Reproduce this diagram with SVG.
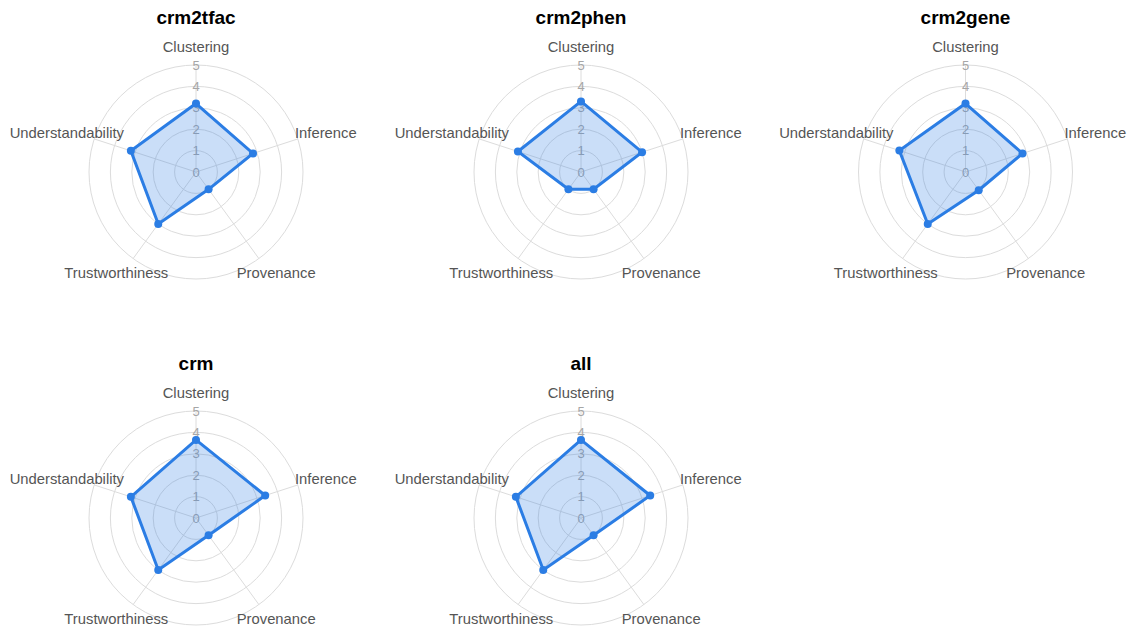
<svg xmlns="http://www.w3.org/2000/svg" xmlns:xlink="http://www.w3.org/1999/xlink" width="1132" height="632" viewBox="0 0 1132 632">
<style>
.grid circle{fill:none;stroke:#dcdcdc;stroke-width:1}
.grid line{stroke:#dcdcdc;stroke-width:1}
.tick{font-family:"Liberation Sans",Arial,sans-serif;font-size:13px;fill:#a6a6a6;text-anchor:middle}
.lbl{font-family:"Liberation Sans",Arial,sans-serif;font-size:14.8px;fill:#555}
.title{font-family:"Liberation Sans",Arial,sans-serif;font-size:19px;font-weight:bold;fill:#000;text-anchor:middle}
.area{fill:rgba(43,124,229,0.25);stroke:#2b7de4;stroke-width:3;stroke-linejoin:miter}
.pt{fill:#2b7de4}
</style>
<defs>
<g id="scale">
<g class="grid">
<circle r="21.4"/><circle r="42.8"/><circle r="64.2"/><circle r="85.6"/><circle r="107"/>
<line x1="0" y1="0" x2="0" y2="-107"/>
<line x1="0" y1="0" x2="101.77" y2="-33.06"/>
<line x1="0" y1="0" x2="62.89" y2="86.57"/>
<line x1="0" y1="0" x2="-62.89" y2="86.57"/>
<line x1="0" y1="0" x2="-101.77" y2="-33.06"/>
</g>
<g class="tick">
<text x="0" y="4.6">0</text>
<text x="0" y="-16.8">1</text>
<text x="0" y="-38.2">2</text>
<text x="0" y="-59.6">3</text>
<text x="0" y="-81">4</text>
<text x="0" y="-102.4">5</text>
</g>
<g class="lbl">
<text x="0" y="-120.5" text-anchor="middle">Clustering</text>
<text x="99" y="-33.7">Inference</text>
<text x="80.2" y="106.3" text-anchor="middle">Provenance</text>
<text x="-79.7" y="106.3" text-anchor="middle">Trustworthiness</text>
<text x="-72" y="-33.7" text-anchor="end">Understandability</text>
</g>
</g>
</defs>

<g id="chart-crm2tfac" transform="translate(196,172)">
<text class="title" x="0" y="-148.5">crm2tfac</text>
<use xlink:href="#scale" href="#scale"/>
<polygon class="area" points="0,-68.48 56.99,-18.52 12.58,17.31 -37.74,51.94 -65.13,-21.16"/>
<circle class="pt" cx="0" cy="-68.48" r="4"/>
<circle class="pt" cx="56.99" cy="-18.52" r="4"/>
<circle class="pt" cx="12.58" cy="17.31" r="4"/>
<circle class="pt" cx="-37.74" cy="51.94" r="4"/>
<circle class="pt" cx="-65.13" cy="-21.16" r="4"/>
</g>

<g id="chart-crm2phen" transform="translate(581,172)">
<text class="title" x="0" y="-148.5">crm2phen</text>
<use xlink:href="#scale" href="#scale"/>
<polygon class="area" points="0,-70.62 61.06,-19.84 12.58,17.31 -12.58,17.31 -63.10,-20.50"/>
<circle class="pt" cx="0" cy="-70.62" r="4"/>
<circle class="pt" cx="61.06" cy="-19.84" r="4"/>
<circle class="pt" cx="12.58" cy="17.31" r="4"/>
<circle class="pt" cx="-12.58" cy="17.31" r="4"/>
<circle class="pt" cx="-63.10" cy="-20.50" r="4"/>
</g>

<g id="chart-crm2gene" transform="translate(965.5,172)">
<text class="title" x="0" y="-148.5">crm2gene</text>
<use xlink:href="#scale" href="#scale"/>
<polygon class="area" points="0,-68.48 56.99,-18.52 13.21,18.18 -37.74,51.94 -66.15,-21.49"/>
<circle class="pt" cx="0" cy="-68.48" r="4"/>
<circle class="pt" cx="56.99" cy="-18.52" r="4"/>
<circle class="pt" cx="13.21" cy="18.18" r="4"/>
<circle class="pt" cx="-37.74" cy="51.94" r="4"/>
<circle class="pt" cx="-66.15" cy="-21.49" r="4"/>
</g>

<g id="chart-crm" transform="translate(196,518)">
<text class="title" x="0" y="-148.5">crm</text>
<use xlink:href="#scale" href="#scale"/>
<polygon class="area" points="0,-78.11 69.20,-22.48 12.58,17.31 -37.74,51.94 -65.13,-21.16"/>
<circle class="pt" cx="0" cy="-78.11" r="4"/>
<circle class="pt" cx="69.20" cy="-22.48" r="4"/>
<circle class="pt" cx="12.58" cy="17.31" r="4"/>
<circle class="pt" cx="-37.74" cy="51.94" r="4"/>
<circle class="pt" cx="-65.13" cy="-21.16" r="4"/>
</g>

<g id="chart-all" transform="translate(581,518)">
<text class="title" x="0" y="-148.5">all</text>
<use xlink:href="#scale" href="#scale"/>
<polygon class="area" points="0,-78.11 69.20,-22.48 12.58,17.31 -37.74,51.94 -65.13,-21.16"/>
<circle class="pt" cx="0" cy="-78.11" r="4"/>
<circle class="pt" cx="69.20" cy="-22.48" r="4"/>
<circle class="pt" cx="12.58" cy="17.31" r="4"/>
<circle class="pt" cx="-37.74" cy="51.94" r="4"/>
<circle class="pt" cx="-65.13" cy="-21.16" r="4"/>
</g>
</svg>
